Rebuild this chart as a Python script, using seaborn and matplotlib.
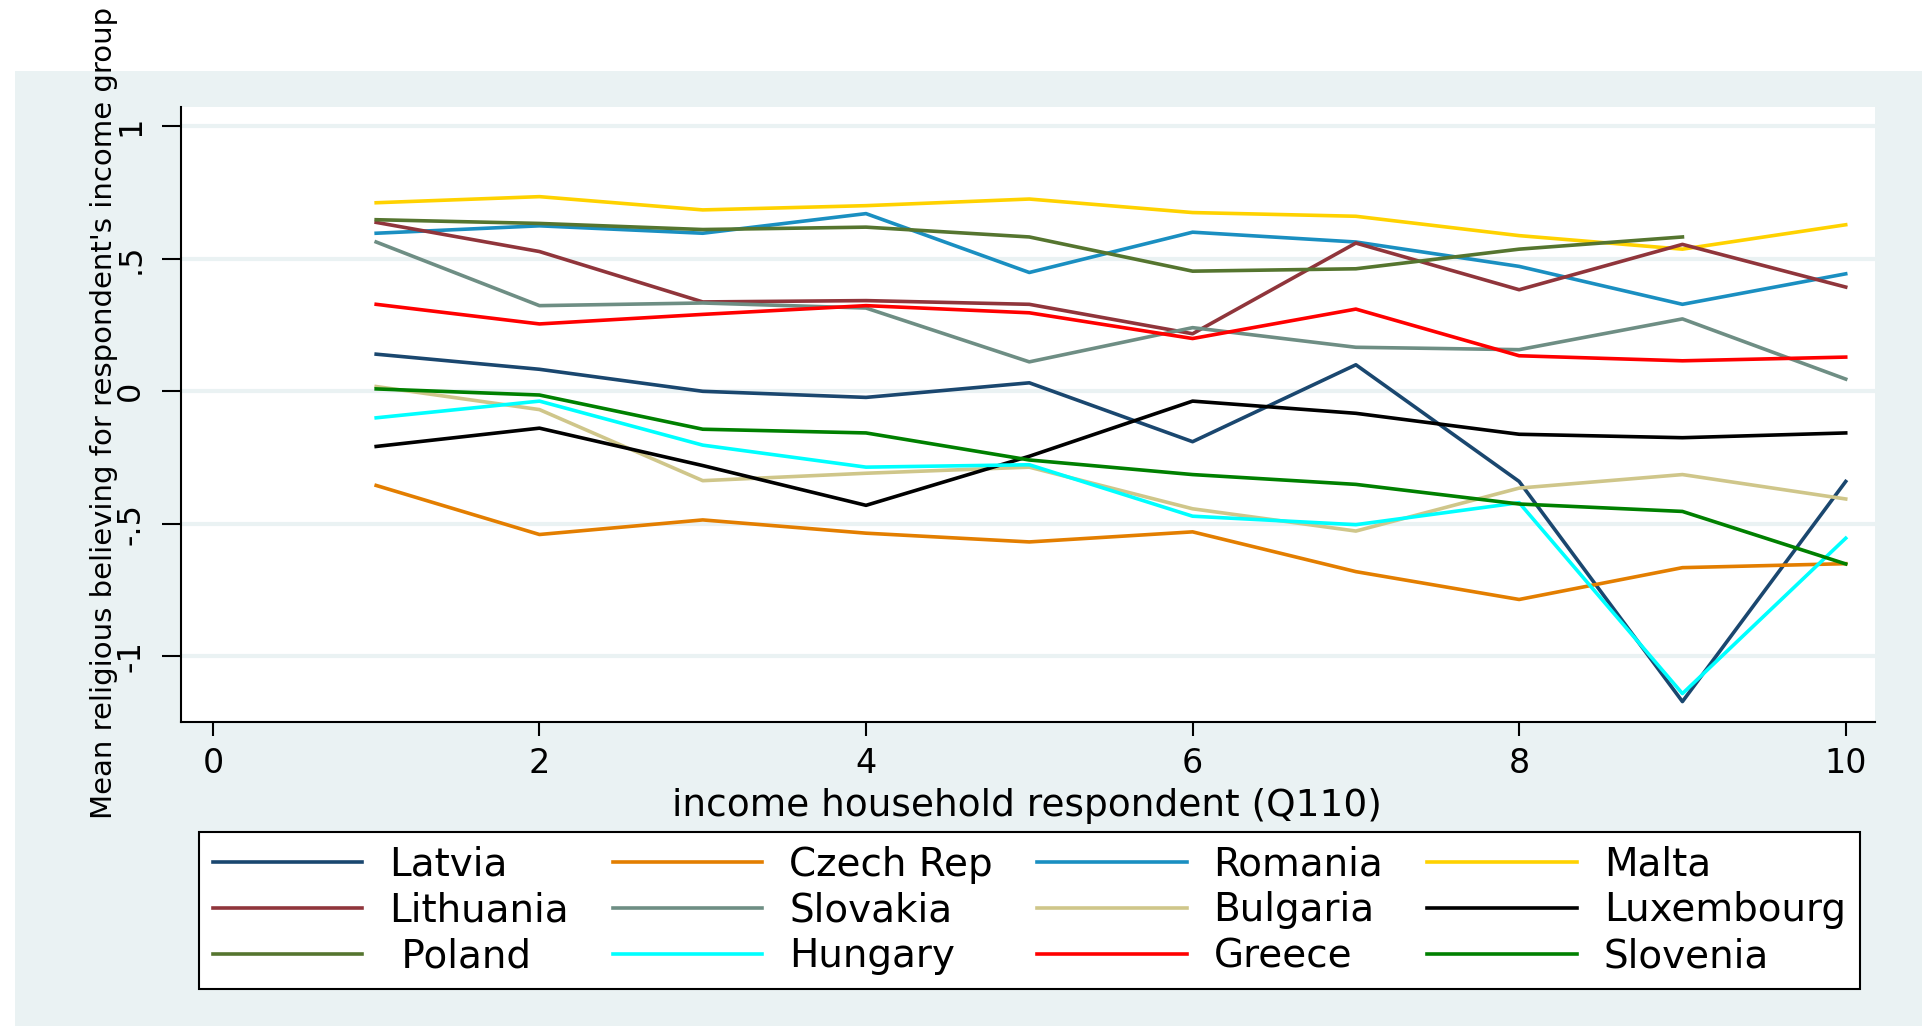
import pandas as pd
import seaborn as sns
import matplotlib.pyplot as plt
from matplotlib.patches import Rectangle

income = [1, 2, 3, 4, 5, 6, 7, 8, 9, 10]

latvia = [0.14, 0.083, 0.0, -0.023, 0.032, -0.19, 0.10, -0.34, -1.17, -0.34]
czech = [-0.355, -0.54, -0.485, -0.535, -0.568, -0.53, -0.68, -0.785, -0.665, -0.65]
romania = [0.596, 0.624, 0.596, 0.67, 0.448, 0.60, 0.563, 0.471, 0.328, 0.443]
malta = [0.711, 0.734, 0.684, 0.70, 0.725, 0.674, 0.66, 0.587, 0.536, 0.628]
lithuania = [0.637, 0.527, 0.337, 0.342, 0.328, 0.217, 0.559, 0.383, 0.554, 0.393]
slovakia = [0.563, 0.323, 0.333, 0.314, 0.111, 0.24, 0.166, 0.157, 0.273, 0.046]
bulgaria = [0.018, -0.069, -0.337, -0.309, -0.286, -0.443, -0.527, -0.365, -0.314, -0.406]
luxembourg = [-0.208, -0.139, -0.28, -0.43, -0.245, -0.037, -0.083, -0.162, -0.175, -0.157]
poland = [0.647, 0.633, 0.61, 0.619, 0.582, 0.453, 0.462, 0.536, 0.582, None]
hungary = [-0.10, -0.037, -0.203, -0.286, -0.277, -0.471, -0.503, -0.42, -1.14, -0.554]
greece = [0.328, 0.254, 0.29, 0.323, 0.296, 0.199, 0.31, 0.134, 0.115, 0.129]
slovenia = [0.009, -0.014, -0.143, -0.157, -0.259, -0.314, -0.351, -0.425, -0.453, -0.651]

countries = ['Latvia', 'Czech Rep', 'Romania', 'Malta', 'Lithuania', 'Slovakia',
             'Bulgaria', 'Luxembourg', ' Poland', 'Hungary', 'Greece', 'Slovenia']
werte = [latvia, czech, romania, malta, lithuania, slovakia,
         bulgaria, luxembourg, poland, hungary, greece, slovenia]
farben = ['#1a476f', '#e37e00', '#1a8fc1', '#ffd200', '#90353b', '#6e8e84',
          '#cfc68a', '#000000', '#55752f', '#00ffff', '#ff0000', '#008000']

zeilen = []
for land, reihe in zip(countries, werte):
    for x, y in zip(income, reihe):
        zeilen.append((land, x, y))
df = pd.DataFrame(zeilen, columns=['country', 'income', 'mean']).dropna()

bg = '#eaf2f3'
plt.rcParams['font.family'] = ['DejaVu Sans']

fig = plt.figure(figsize=(19.22, 10.26), dpi=100)
fig.patches.append(Rectangle((15 / 1922, 0), 1, 1 - 71 / 1026, transform=fig.transFigure,
                             facecolor=bg, edgecolor='none', zorder=-5))
ax = fig.add_axes([0.0942, 0.2963, 0.8814, 0.5994])
ax.set_facecolor('white')

sns.lineplot(data=df, x='income', y='mean', hue='country', hue_order=countries,
             palette=dict(zip(countries, farben)), linewidth=2.6, ax=ax, legend=True)

ax.set_xlim(-0.195, 10.18)
ax.set_ylim(-1.247, 1.072)
ax.set_xticks([0, 2, 4, 6, 8, 10])
ax.set_yticks([-1, -0.5, 0, 0.5, 1])
ax.set_yticklabels(['-1', '-.5', '0', '.5', '1'], rotation=90, va='center')
ax.tick_params(axis='x', labelsize=24, length=10, width=1.5, direction='out', pad=8)
ax.tick_params(axis='y', labelsize=23, length=14, width=1.5, direction='out', pad=11)
ax.yaxis.grid(True, color=bg, linewidth=3)
ax.set_axisbelow(True)
for s in ['top', 'right']:
    ax.spines[s].set_visible(False)
for s in ['left', 'bottom']:
    ax.spines[s].set_linewidth(1.5)
ax.set_xlabel('')
ax.set_ylabel('')

fig.text(0.5345, 0.214, 'income household respondent (Q110)', fontsize=27,
         ha='center', va='center')
fig.text(0.054, 0.2018, "Mean religious believing for respondent's income group",
         fontsize=21, rotation=90, ha='center', va='bottom')

handles, labels = ax.get_legend_handles_labels()
ax.get_legend().remove()
reihenfolge = [0, 4, 8, 1, 5, 9, 2, 6, 10, 3, 7, 11]
leg = fig.legend([handles[i] for i in reihenfolge], [labels[i] for i in reihenfolge],
                 ncol=4, loc='upper left', bbox_to_anchor=(0.1035, 0.038, 0.864, 0.151),
                 mode='expand', fontsize=28, frameon=True, fancybox=False,
                 facecolor='white', framealpha=1, edgecolor='black',
                 handlelength=3.85, handletextpad=0.69, labelspacing=0.2,
                 borderpad=0.35, borderaxespad=0)
leg.get_frame().set_linewidth(1.5)
for l in leg.get_lines():
    l.set_linewidth(2.6)

plt.savefig('out.png', dpi=100, facecolor='white')
